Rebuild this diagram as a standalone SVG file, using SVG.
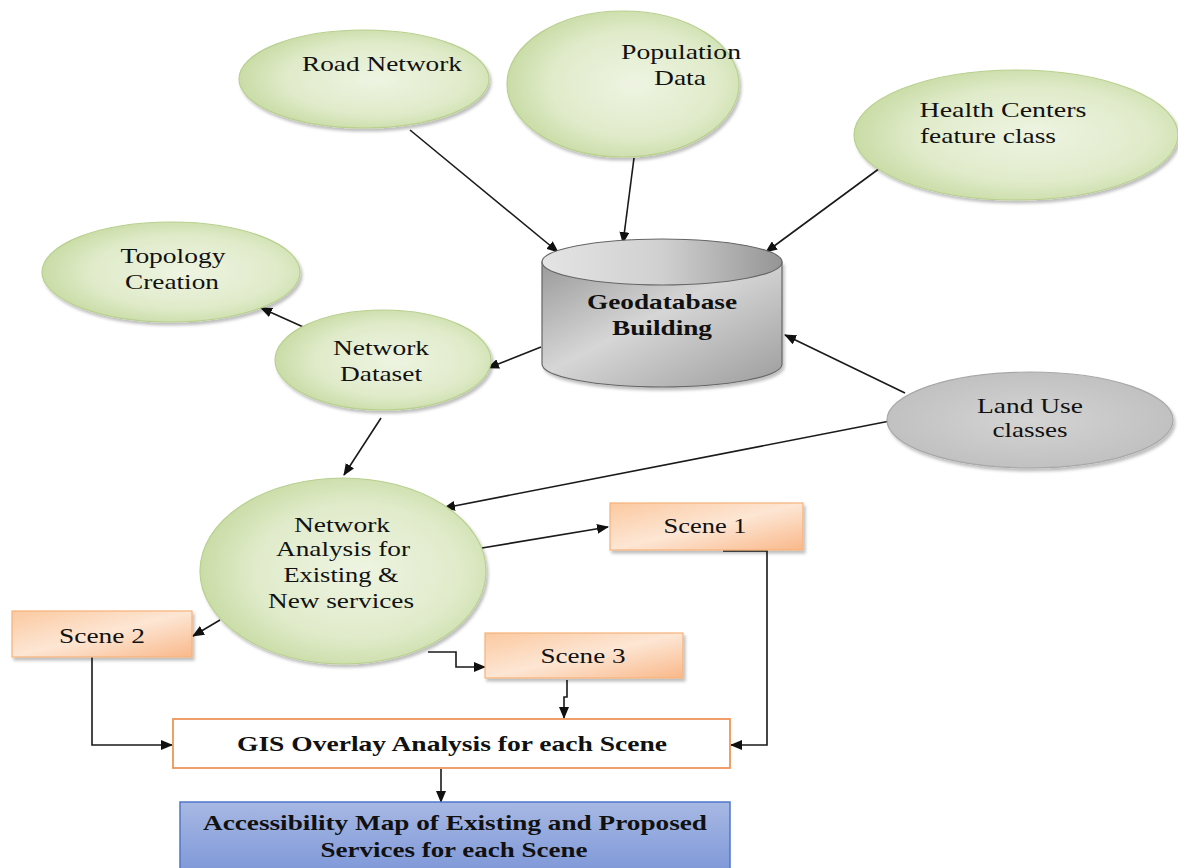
<svg xmlns="http://www.w3.org/2000/svg" width="1178" height="868" viewBox="0 0 1178 868">
<style>
text{font-family:"Liberation Serif","Times New Roman",serif;font-size:22px;fill:#111;text-anchor:middle}
.b{font-weight:bold}
.g{fill:url(#gGreen);stroke:#b9d08f;stroke-width:1.2;filter:url(#sh)}
.o{fill:url(#gOrange);stroke:#f5b27a;stroke-width:1.2;filter:url(#sh)}
.c{fill:none;stroke:#1a1a1a;stroke-width:1.6}
</style>
<defs>
<radialGradient id="gGreen" cx="0.55" cy="0.5" r="0.6">
<stop offset="0" stop-color="#eef4e2"/>
<stop offset="0.6" stop-color="#e0ebca"/>
<stop offset="1" stop-color="#c3d89c"/>
</radialGradient>
<linearGradient id="gOrange" x1="0" y1="0" x2="1" y2="1">
<stop offset="0" stop-color="#fbc9a0"/>
<stop offset="0.5" stop-color="#fde6d4"/>
<stop offset="1" stop-color="#f9b88a"/>
</linearGradient>
<radialGradient id="gGray" cx="0.5" cy="0.5" r="0.6">
<stop offset="0" stop-color="#d4d4d4"/>
<stop offset="1" stop-color="#bdbdbd"/>
</radialGradient>
<linearGradient id="gCylBody" x1="0" y1="0" x2="1" y2="1">
<stop offset="0" stop-color="#9a9a9a"/>
<stop offset="0.45" stop-color="#d6d6d6"/>
<stop offset="1" stop-color="#9c9c9c"/>
</linearGradient>
<linearGradient id="gCylTop" x1="0" y1="0" x2="1" y2="0">
<stop offset="0" stop-color="#e4e4e4"/>
<stop offset="0.5" stop-color="#d0d0d0"/>
<stop offset="1" stop-color="#959595"/>
</linearGradient>
<linearGradient id="gBlue" x1="0" y1="0" x2="0" y2="1">
<stop offset="0" stop-color="#a7b8e3"/>
<stop offset="1" stop-color="#7f98d8"/>
</linearGradient>
<filter id="sh" x="-10%" y="-10%" width="125%" height="130%">
<feDropShadow dx="2" dy="3" stdDeviation="1.5" flood-color="#000" flood-opacity="0.25"/>
</filter>
<marker id="ah" viewBox="0 0 12 10" refX="11" refY="5" markerWidth="12" markerHeight="10" markerUnits="userSpaceOnUse" orient="auto">
<path d="M0,0 L12,5 L0,10 Z" fill="#111"/>
</marker>
</defs>

<g id="connectors">
<line class="c" x1="410" y1="130" x2="558" y2="252" marker-end="url(#ah)"/>
<line class="c" x1="634" y1="158" x2="623" y2="243" marker-end="url(#ah)"/>
<line class="c" x1="880" y1="168" x2="766" y2="252" marker-end="url(#ah)"/>
<line class="c" x1="905" y1="393" x2="785" y2="335" marker-end="url(#ah)"/>
<line class="c" x1="890" y1="421" x2="444" y2="508" marker-end="url(#ah)"/>
<line class="c" x1="541" y1="347" x2="488" y2="368" marker-end="url(#ah)"/>
<line class="c" x1="310" y1="330" x2="261" y2="308" marker-end="url(#ah)"/>
<line class="c" x1="381" y1="418" x2="344" y2="475" marker-end="url(#ah)"/>
<line class="c" x1="482" y1="548" x2="608" y2="527" marker-end="url(#ah)"/>
<line class="c" x1="220" y1="620" x2="193" y2="636" marker-end="url(#ah)"/>
<polyline class="c" points="428,652 456,652 456,667 485,667" marker-end="url(#ah)"/>
<polyline class="c" points="567,680 567,697 564,697 564,718" marker-end="url(#ah)"/>
<polyline class="c" points="723,551 767,551 767,745 731,745" marker-end="url(#ah)"/>
<polyline class="c" points="92,657 92,745 172,745" marker-end="url(#ah)"/>
<line class="c" x1="441" y1="769" x2="441" y2="802" marker-end="url(#ah)"/>
</g>

<g id="road-network">
<ellipse class="g" cx="364" cy="79" rx="125" ry="49"/>
<text x="382" y="71" textLength="160" lengthAdjust="spacingAndGlyphs">Road Network</text>
</g>

<g id="population-data">
<ellipse class="g" cx="623" cy="84" rx="116" ry="73"/>
<text x="681" y="59" textLength="120" lengthAdjust="spacingAndGlyphs">Population</text>
<text x="680" y="85" textLength="52" lengthAdjust="spacingAndGlyphs">Data</text>
</g>

<g id="health-centers">
<ellipse class="g" cx="1016" cy="135" rx="162" ry="65"/>
<text x="1003" y="117" textLength="167" lengthAdjust="spacingAndGlyphs">Health Centers</text>
<text x="988" y="143" textLength="136" lengthAdjust="spacingAndGlyphs">feature class</text>
</g>

<g id="topology-creation">
<ellipse class="g" cx="171" cy="272" rx="129" ry="50"/>
<text x="173" y="263" textLength="105" lengthAdjust="spacingAndGlyphs">Topology</text>
<text x="172" y="289" textLength="94" lengthAdjust="spacingAndGlyphs">Creation</text>
</g>

<g id="network-dataset">
<ellipse class="g" cx="383" cy="360" rx="108" ry="50"/>
<text x="381" y="355" textLength="96" lengthAdjust="spacingAndGlyphs">Network</text>
<text x="381" y="381" textLength="82" lengthAdjust="spacingAndGlyphs">Dataset</text>
</g>

<g id="geodatabase-building">
<path d="M542,262 L542,364 A120,23 0 0 0 782,364 L782,262 Z" fill="url(#gCylBody)" stroke="#666" stroke-width="1.2" filter="url(#sh)"/>
<ellipse cx="662" cy="262" rx="120" ry="23" fill="url(#gCylTop)" stroke="#666" stroke-width="1.2"/>
<text class="b" x="662" y="309" textLength="150" lengthAdjust="spacingAndGlyphs">Geodatabase</text>
<text class="b" x="662" y="335" textLength="100" lengthAdjust="spacingAndGlyphs">Building</text>
</g>

<g id="land-use">
<ellipse cx="1030" cy="420" rx="143" ry="48" fill="url(#gGray)" stroke="#a8a8a8" stroke-width="1.2" filter="url(#sh)"/>
<text x="1030" y="413" textLength="106" lengthAdjust="spacingAndGlyphs">Land Use</text>
<text x="1030" y="437" textLength="75" lengthAdjust="spacingAndGlyphs">classes</text>
</g>

<g id="network-analysis">
<ellipse class="g" cx="343" cy="571" rx="143" ry="93"/>
<text x="342" y="532" textLength="96" lengthAdjust="spacingAndGlyphs">Network</text>
<text x="343" y="556" textLength="134" lengthAdjust="spacingAndGlyphs">Analysis for</text>
<text x="341" y="582" textLength="115" lengthAdjust="spacingAndGlyphs">Existing &amp;</text>
<text x="341" y="608" textLength="146" lengthAdjust="spacingAndGlyphs">New services</text>
</g>

<g id="scene-1">
<rect class="o" x="610" y="503" width="193" height="47"/>
<text x="705" y="533" textLength="83" lengthAdjust="spacingAndGlyphs">Scene 1</text>
</g>

<g id="scene-2">
<rect class="o" x="12" y="611" width="180" height="46"/>
<text x="102" y="643" textLength="86" lengthAdjust="spacingAndGlyphs">Scene 2</text>
</g>

<g id="scene-3">
<rect class="o" x="485" y="633" width="198" height="45"/>
<text x="583" y="663" textLength="85" lengthAdjust="spacingAndGlyphs">Scene 3</text>
</g>

<g id="gis-overlay">
<rect x="173" y="719" width="557" height="49" fill="#fff" stroke="#f0955a" stroke-width="1.8"/>
<text class="b" x="452" y="751" textLength="430" lengthAdjust="spacingAndGlyphs">GIS Overlay Analysis for each Scene</text>
</g>

<g id="accessibility-map">
<rect x="180" y="802" width="550" height="70" fill="url(#gBlue)" stroke="#4f77c8" stroke-width="1.5"/>
<text class="b" x="455" y="830" textLength="504" lengthAdjust="spacingAndGlyphs">Accessibility Map of Existing and Proposed</text>
<text class="b" x="454" y="857" textLength="267" lengthAdjust="spacingAndGlyphs">Services for each Scene</text>
</g>
</svg>
